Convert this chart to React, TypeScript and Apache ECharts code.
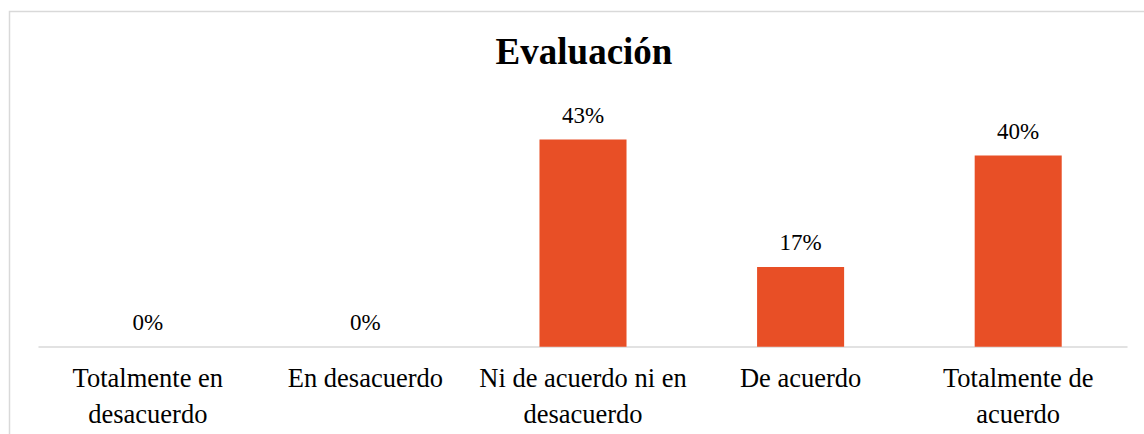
import React, { useEffect, useRef } from "react";
import * as echarts from "echarts";

const categories: string[] = [
  "Totalmente en\ndesacuerdo",
  "En desacuerdo",
  "Ni de acuerdo ni en\ndesacuerdo",
  "De acuerdo",
  "Totalmente de\nacuerdo",
];
const values: number[] = [0, 0, 43.33, 16.67, 40];
const titleText = "Evaluación";

const FONT = "'Liberation Serif', 'Times New Roman', serif";

export default function App() {
  const ref = useRef<HTMLDivElement>(null);
  useEffect(() => {
    if (!ref.current) return;
    const chart = echarts.init(ref.current, undefined, { renderer: "svg" });
    chart.setOption({
      animation: false,
      backgroundColor: "#ffffff",
      title: {
        text: titleText,
        left: 579,
        textAlign: "center",
        top: 28,
        textStyle: { fontFamily: FONT, fontWeight: "bold", fontSize: 37, color: "#000000" },
      },
      graphic: [
        {
          type: "rect",
          shape: { x: 9.5, y: 11.5, width: 2000, height: 2000 },
          style: { fill: "none", stroke: "#d9d9d9", lineWidth: 1.5 },
          silent: true,
        },
      ],
      grid: { left: 39, right: 17, top: 107.7, bottom: 87.3, containLabel: false },
      xAxis: {
        type: "category",
        data: categories,
        axisLine: { show: true, lineStyle: { color: "#d9d9d9", width: 1.5 } },
        axisTick: { show: false },
        axisLabel: {
          fontFamily: FONT,
          fontSize: 26.5,
          lineHeight: 36,
          color: "#000000",
          margin: 13,
          interval: 0,
        },
      },
      yAxis: {
        type: "value",
        min: 0,
        max: 50,
        show: false,
        splitLine: { show: false },
      },
      series: [
        {
          type: "bar",
          data: values,
          barCategoryGap: "60%",
          itemStyle: { color: "#E84F26" },
          label: {
            show: true,
            position: "top",
            distance: 13,
            fontFamily: FONT,
            fontSize: 23,
            color: "#000000",
            formatter: (p: any) => Math.round(p.value) + "%",
          },
        },
      ],
    });
    return () => chart.dispose();
  }, []);
  return (
    <div
      ref={ref}
      style={{ position: "fixed", left: 0, top: 0, width: 1144, height: 434 }}
    />
  );
}
